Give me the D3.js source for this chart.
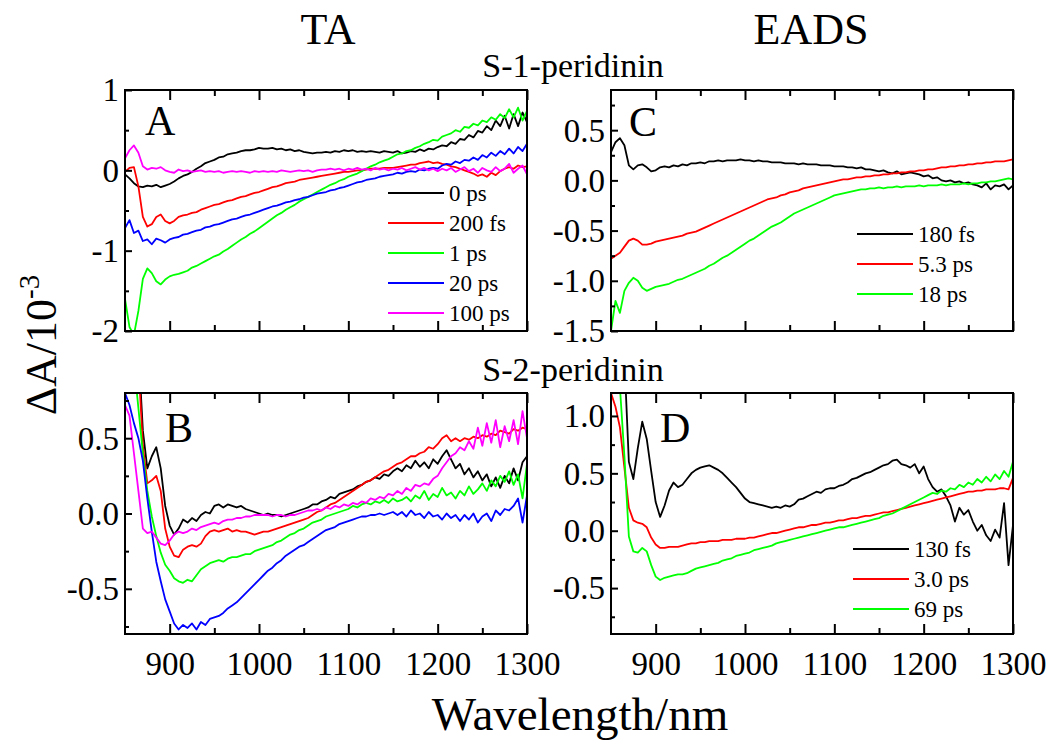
<!DOCTYPE html>
<html>
<head>
<meta charset="utf-8">
<script src="https://cdn.jsdelivr.net/npm/d3@7"></script>
<style>
  body { margin: 0; background: #fff; }
</style>
</head>
<body>
<svg id="chart" width="1052" height="740"></svg>
<script>
// wavelength grid (nm), shared by all spectra
const wavelength = [850, 855, 860, 865, 870, 875, 880, 885, 890, 895, 900, 905, 910, 915, 920, 925, 930, 935, 940, 945,
  950, 955, 960, 965, 970, 975, 980, 985, 990, 995, 1000, 1005, 1010, 1015, 1020, 1025, 1030, 1035, 1040, 1045,
  1050, 1055, 1060, 1065, 1070, 1075, 1080, 1085, 1090, 1095, 1100, 1105, 1110, 1115, 1120, 1125, 1130, 1135, 1140, 1145,
  1150, 1155, 1160, 1165, 1170, 1175, 1180, 1185, 1190, 1195, 1200, 1205, 1210, 1215, 1220, 1225, 1230, 1235, 1240, 1245,
  1250, 1255, 1260, 1265, 1270, 1275, 1280, 1285, 1290, 1295, 1300];

// A: TA, S-1-peridinin
const taS1_0ps = [-0.05, -0.10, -0.16, -0.20, -0.21, -0.19, -0.20, -0.18, -0.21, -0.19, -0.17, -0.14, -0.10, -0.07, -0.05, -0.02, 0.02, 0.05, 0.09, 0.11,
  0.13, 0.16, 0.17, 0.20, 0.21, 0.22, 0.24, 0.25, 0.25, 0.26, 0.28, 0.27, 0.27, 0.28, 0.26, 0.27, 0.25, 0.26, 0.24, 0.25,
  0.23, 0.22, 0.21, 0.22, 0.22, 0.23, 0.22, 0.24, 0.23, 0.25, 0.24, 0.25, 0.23, 0.24, 0.23, 0.24, 0.23, 0.22, 0.24, 0.23,
  0.22, 0.24, 0.21, 0.22, 0.24, 0.23, 0.26, 0.24, 0.27, 0.26, 0.29, 0.31, 0.30, 0.35, 0.33, 0.39, 0.38, 0.44, 0.41, 0.49,
  0.47, 0.55, 0.50, 0.62, 0.55, 0.68, 0.52, 0.70, 0.55, 0.72, 0.60];
const taS1_200fs = [-0.02, 0.03, 0.04, -0.20, -0.58, -0.70, -0.67, -0.58, -0.55, -0.63, -0.66, -0.63, -0.58, -0.56, -0.55, -0.53, -0.52, -0.49, -0.47, -0.45,
  -0.43, -0.42, -0.40, -0.38, -0.37, -0.35, -0.33, -0.32, -0.30, -0.28, -0.27, -0.25, -0.23, -0.21, -0.20, -0.18, -0.16, -0.15, -0.14, -0.12,
  -0.11, -0.10, -0.09, -0.08, -0.07, -0.06, -0.05, -0.04, -0.03, -0.02, -0.02, -0.01, 0.00, 0.00, 0.01, 0.02, 0.02, 0.02, 0.03, 0.03,
  0.03, 0.04, 0.05, 0.06, 0.07, 0.07, 0.09, 0.10, 0.11, 0.09, 0.10, 0.08, 0.07, 0.05, 0.04, 0.02, 0.00, -0.02, -0.04, -0.07,
  -0.05, -0.08, -0.03, -0.06, -0.01, 0.02, 0.04, 0.02, 0.06, 0.04, 0.05];
const taS1_1ps = [-1.60, -1.95, -2.05, -1.75, -1.35, -1.22, -1.28, -1.38, -1.42, -1.36, -1.32, -1.30, -1.29, -1.27, -1.25, -1.21, -1.19, -1.16, -1.13, -1.10,
  -1.07, -1.05, -1.01, -0.98, -0.94, -0.90, -0.86, -0.83, -0.79, -0.76, -0.72, -0.68, -0.64, -0.60, -0.56, -0.53, -0.49, -0.46, -0.43, -0.39,
  -0.36, -0.33, -0.30, -0.27, -0.24, -0.21, -0.18, -0.16, -0.13, -0.11, -0.08, -0.06, -0.04, -0.01, 0.02, 0.05, 0.07, 0.10, 0.12, 0.14,
  0.17, 0.20, 0.21, 0.24, 0.25, 0.28, 0.30, 0.33, 0.35, 0.38, 0.37, 0.42, 0.44, 0.46, 0.50, 0.48, 0.54, 0.53, 0.58, 0.56,
  0.62, 0.60, 0.66, 0.63, 0.70, 0.65, 0.76, 0.66, 0.78, 0.62, 0.74];
const taS1_20ps = [-0.72, -0.62, -0.78, -0.75, -0.88, -0.86, -0.92, -0.85, -0.87, -0.90, -0.86, -0.84, -0.83, -0.80, -0.79, -0.77, -0.75, -0.74, -0.71, -0.70,
  -0.68, -0.67, -0.65, -0.63, -0.61, -0.60, -0.58, -0.56, -0.55, -0.53, -0.51, -0.49, -0.47, -0.45, -0.44, -0.42, -0.40, -0.39, -0.37, -0.36,
  -0.34, -0.33, -0.31, -0.29, -0.28, -0.27, -0.25, -0.24, -0.22, -0.21, -0.19, -0.17, -0.15, -0.14, -0.12, -0.11, -0.10, -0.08, -0.07, -0.06,
  -0.05, -0.03, -0.04, -0.02, -0.01, -0.02, 0.01, 0.00, 0.02, 0.03, 0.02, 0.06, 0.08, 0.07, 0.11, 0.09, 0.13, 0.12, 0.16, 0.13,
  0.19, 0.16, 0.22, 0.18, 0.24, 0.20, 0.27, 0.21, 0.29, 0.24, 0.33];
const taS1_100ps = [0.15, 0.25, 0.31, 0.22, 0.05, 0.01, 0.03, 0.02, 0.04, 0.00, -0.02, -0.03, 0.01, -0.01, 0.00, -0.02, -0.01, 0.00, -0.02, -0.01,
  -0.02, -0.01, -0.03, -0.02, -0.01, -0.02, -0.01, -0.02, -0.03, -0.01, -0.02, -0.01, -0.02, -0.01, -0.02, 0.00, -0.01, -0.02, -0.01, 0.00,
  -0.01, 0.00, -0.02, 0.00, 0.01, 0.01, 0.02, 0.01, 0.02, 0.00, 0.02, 0.01, 0.03, 0.01, 0.02, 0.00, 0.03, 0.01, 0.02, 0.00,
  0.02, 0.01, 0.03, 0.00, 0.02, 0.04, 0.01, 0.03, 0.00, 0.02, -0.01, 0.02, 0.00, 0.03, -0.02, 0.01, 0.04, -0.01, 0.02, -0.03,
  0.03, 0.00, -0.02, 0.04, -0.01, 0.02, 0.08, -0.03, 0.02, 0.06, -0.05];
const taS1Labels = ["0 ps", "200 fs", "1 ps", "20 ps", "100 ps"];

// B: TA, S-2-peridinin
const taS2_0ps = [1.20, 1.20, 1.20, 1.10, 0.55, 0.30, 0.38, 0.44, 0.30, 0.05, -0.08, -0.14, -0.10, -0.04, -0.06, -0.03, -0.05, -0.01, 0.01, 0.00,
  0.05, 0.06, 0.04, 0.06, 0.05, 0.04, 0.05, 0.03, 0.02, 0.01, 0.00, -0.01, 0.00, -0.01, -0.01, -0.02, -0.01, 0.00, 0.01, 0.02,
  0.03, 0.04, 0.06, 0.06, 0.08, 0.09, 0.11, 0.10, 0.13, 0.14, 0.15, 0.16, 0.18, 0.19, 0.21, 0.22, 0.24, 0.23, 0.26, 0.25,
  0.28, 0.30, 0.28, 0.32, 0.30, 0.35, 0.31, 0.34, 0.30, 0.36, 0.33, 0.38, 0.42, 0.36, 0.30, 0.33, 0.26, 0.30, 0.24, 0.28,
  0.22, 0.26, 0.18, 0.24, 0.17, 0.25, 0.20, 0.30, 0.22, 0.34, 0.38];
const taS2_200fs = [1.20, 1.20, 1.20, 1.00, 0.45, 0.20, 0.22, 0.25, 0.15, -0.10, -0.22, -0.28, -0.29, -0.24, -0.22, -0.21, -0.22, -0.20, -0.15, -0.12,
  -0.11, -0.12, -0.11, -0.10, -0.12, -0.11, -0.12, -0.12, -0.13, -0.14, -0.13, -0.12, -0.12, -0.11, -0.10, -0.09, -0.08, -0.07, -0.06, -0.05,
  -0.04, -0.03, -0.01, 0.01, 0.02, 0.04, 0.06, 0.07, 0.09, 0.11, 0.13, 0.15, 0.17, 0.19, 0.21, 0.22, 0.24, 0.26, 0.28, 0.29,
  0.31, 0.33, 0.34, 0.36, 0.38, 0.38, 0.40, 0.41, 0.44, 0.43, 0.46, 0.50, 0.52, 0.48, 0.50, 0.48, 0.50, 0.49, 0.51, 0.50,
  0.52, 0.51, 0.53, 0.52, 0.55, 0.54, 0.53, 0.56, 0.55, 0.57, 0.56];
const taS2_1ps = [1.20, 1.20, 1.00, 0.70, 0.40, 0.15, -0.02, -0.15, -0.26, -0.34, -0.38, -0.43, -0.45, -0.46, -0.44, -0.45, -0.41, -0.37, -0.35, -0.33,
  -0.32, -0.31, -0.32, -0.30, -0.29, -0.29, -0.28, -0.27, -0.27, -0.25, -0.24, -0.23, -0.22, -0.21, -0.19, -0.18, -0.16, -0.14, -0.13, -0.11,
  -0.10, -0.08, -0.06, -0.05, -0.04, -0.02, -0.01, 0.00, 0.01, 0.02, 0.03, 0.05, 0.04, 0.06, 0.07, 0.06, 0.08, 0.07, 0.09, 0.07,
  0.10, 0.08, 0.09, 0.11, 0.08, 0.12, 0.10, 0.15, 0.09, 0.13, 0.11, 0.17, 0.12, 0.14, 0.10, 0.15, 0.12, 0.18, 0.13, 0.16,
  0.20, 0.15, 0.22, 0.18, 0.25, 0.21, 0.28, 0.19, 0.26, 0.10, 0.33];
const taS2_20ps = [0.80, 0.72, 0.60, 0.50, 0.35, 0.10, -0.12, -0.32, -0.45, -0.57, -0.65, -0.73, -0.77, -0.74, -0.76, -0.73, -0.77, -0.72, -0.74, -0.70,
  -0.69, -0.68, -0.66, -0.63, -0.61, -0.59, -0.56, -0.53, -0.50, -0.47, -0.44, -0.41, -0.38, -0.36, -0.33, -0.31, -0.28, -0.26, -0.24, -0.22,
  -0.21, -0.19, -0.17, -0.15, -0.13, -0.11, -0.10, -0.09, -0.07, -0.06, -0.05, -0.04, -0.03, -0.02, -0.02, -0.01, -0.01, 0.00, -0.01, 0.00,
  0.01, -0.01, 0.01, -0.02, 0.02, -0.01, 0.00, -0.03, 0.01, -0.02, -0.01, -0.04, 0.00, -0.03, -0.01, -0.05, -0.01, -0.04, 0.00, -0.06,
  -0.02, 0.00, -0.05, 0.02, -0.01, 0.03, 0.02, 0.05, 0.10, -0.06, 0.12];
const taS2_100ps = [0.72, 0.65, 0.40, 0.15, -0.10, -0.13, -0.12, -0.16, -0.20, -0.21, -0.18, -0.14, -0.12, -0.13, -0.12, -0.10, -0.11, -0.09, -0.08, -0.07,
  -0.06, -0.07, -0.05, -0.04, -0.04, -0.03, -0.03, -0.02, -0.02, -0.01, -0.01, -0.01, -0.01, -0.02, -0.01, -0.01, -0.02, -0.01, -0.01, 0.00,
  0.01, 0.02, 0.02, 0.03, 0.02, 0.04, 0.03, 0.05, 0.04, 0.06, 0.05, 0.07, 0.06, 0.08, 0.07, 0.10, 0.09, 0.11, 0.10, 0.13,
  0.12, 0.15, 0.13, 0.17, 0.15, 0.19, 0.18, 0.20, 0.19, 0.23, 0.25, 0.30, 0.34, 0.38, 0.40, 0.44, 0.42, 0.48, 0.43, 0.57,
  0.45, 0.60, 0.47, 0.62, 0.44, 0.58, 0.48, 0.62, 0.46, 0.68, 0.50];

// C: EADS, S-1-peridinin
const eadsS1_180fs = [0.28, 0.38, 0.42, 0.35, 0.15, 0.11, 0.15, 0.16, 0.13, 0.09, 0.10, 0.13, 0.14, 0.13, 0.15, 0.14, 0.16, 0.15, 0.17, 0.17,
  0.18, 0.17, 0.19, 0.19, 0.20, 0.19, 0.20, 0.20, 0.20, 0.21, 0.20, 0.20, 0.19, 0.20, 0.19, 0.19, 0.18, 0.18, 0.18, 0.17,
  0.17, 0.17, 0.16, 0.17, 0.16, 0.16, 0.16, 0.15, 0.15, 0.15, 0.14, 0.14, 0.14, 0.13, 0.13, 0.12, 0.13, 0.11, 0.11, 0.10,
  0.09, 0.10, 0.08, 0.07, 0.09, 0.06, 0.07, 0.08, 0.07, 0.06, 0.04, 0.05, 0.02, 0.03, 0.00, -0.01, 0.00, -0.02, -0.01, -0.03,
  -0.02, -0.04, -0.05, -0.07, -0.03, -0.09, -0.05, -0.06, -0.04, -0.09, -0.05];
const eadsS1_5p3ps = [-0.78, -0.75, -0.72, -0.66, -0.60, -0.58, -0.60, -0.64, -0.64, -0.63, -0.61, -0.60, -0.59, -0.58, -0.57, -0.56, -0.55, -0.53, -0.52, -0.51,
  -0.49, -0.47, -0.45, -0.43, -0.41, -0.39, -0.37, -0.35, -0.33, -0.31, -0.29, -0.27, -0.25, -0.23, -0.21, -0.19, -0.18, -0.17, -0.15, -0.14,
  -0.12, -0.11, -0.10, -0.08, -0.07, -0.06, -0.05, -0.04, -0.03, -0.02, -0.01, 0.00, 0.01, 0.01, 0.02, 0.03, 0.03, 0.04, 0.04, 0.05,
  0.05, 0.06, 0.06, 0.07, 0.07, 0.08, 0.08, 0.09, 0.09, 0.10, 0.10, 0.11, 0.11, 0.12, 0.13, 0.13, 0.14, 0.14, 0.15, 0.15,
  0.16, 0.16, 0.17, 0.17, 0.18, 0.18, 0.19, 0.19, 0.19, 0.20, 0.21];
const eadsS1_18ps = [-1.50, -1.20, -1.32, -1.10, -1.02, -0.97, -1.00, -1.07, -1.10, -1.08, -1.06, -1.05, -1.04, -1.03, -1.01, -0.99, -0.98, -0.96, -0.94, -0.92,
  -0.90, -0.88, -0.85, -0.83, -0.80, -0.77, -0.75, -0.72, -0.69, -0.66, -0.63, -0.60, -0.58, -0.55, -0.52, -0.49, -0.46, -0.44, -0.42, -0.39,
  -0.36, -0.33, -0.31, -0.29, -0.27, -0.25, -0.23, -0.21, -0.19, -0.17, -0.15, -0.14, -0.13, -0.12, -0.11, -0.10, -0.09, -0.09, -0.08, -0.08,
  -0.07, -0.08, -0.07, -0.07, -0.06, -0.07, -0.06, -0.06, -0.06, -0.05, -0.06, -0.05, -0.05, -0.05, -0.04, -0.05, -0.04, -0.04, -0.04, -0.03,
  -0.04, -0.03, -0.03, -0.02, -0.02, -0.01, -0.01, 0.00, 0.01, 0.02, 0.01];
const eadsS1Labels = ["180 fs", "5.3 ps", "18 ps"];

// D: EADS, S-2-peridinin
const eadsS2_130fs = [1.50, 1.50, 1.50, 1.50, 0.60, 0.45, 0.72, 0.95, 0.80, 0.52, 0.25, 0.12, 0.22, 0.35, 0.42, 0.38, 0.40, 0.45, 0.50, 0.53,
  0.55, 0.56, 0.57, 0.55, 0.53, 0.50, 0.46, 0.42, 0.38, 0.33, 0.28, 0.25, 0.24, 0.23, 0.22, 0.21, 0.20, 0.21, 0.20, 0.22,
  0.21, 0.23, 0.27, 0.28, 0.30, 0.32, 0.34, 0.33, 0.36, 0.37, 0.37, 0.39, 0.40, 0.42, 0.45, 0.46, 0.48, 0.50, 0.51, 0.53,
  0.55, 0.57, 0.58, 0.61, 0.62, 0.58, 0.57, 0.55, 0.58, 0.50, 0.56, 0.45, 0.38, 0.34, 0.36, 0.30, 0.22, 0.08, 0.20, 0.14,
  0.18, 0.08, 0.00, 0.05, -0.04, -0.09, 0.01, -0.06, 0.24, -0.30, 0.05];
const eadsS2_3p0ps = [1.20, 1.08, 0.90, 0.55, 0.20, 0.09, 0.07, 0.06, 0.03, -0.06, -0.12, -0.15, -0.15, -0.14, -0.14, -0.14, -0.13, -0.12, -0.11, -0.11,
  -0.10, -0.10, -0.09, -0.09, -0.09, -0.08, -0.08, -0.08, -0.07, -0.07, -0.07, -0.06, -0.06, -0.05, -0.04, -0.03, -0.02, -0.02, -0.01, 0.00,
  0.01, 0.02, 0.03, 0.03, 0.04, 0.05, 0.05, 0.06, 0.07, 0.07, 0.08, 0.09, 0.09, 0.10, 0.11, 0.11, 0.12, 0.13, 0.13, 0.14,
  0.15, 0.16, 0.16, 0.17, 0.18, 0.19, 0.20, 0.21, 0.22, 0.23, 0.24, 0.25, 0.26, 0.27, 0.28, 0.29, 0.30, 0.31, 0.32, 0.33,
  0.34, 0.34, 0.35, 0.35, 0.36, 0.36, 0.36, 0.37, 0.37, 0.36, 0.46];
const eadsS2_69ps = [1.50, 1.50, 1.25, 0.65, -0.05, -0.18, -0.19, -0.15, -0.18, -0.30, -0.40, -0.43, -0.41, -0.40, -0.39, -0.38, -0.38, -0.37, -0.35, -0.33,
  -0.32, -0.31, -0.30, -0.29, -0.28, -0.26, -0.25, -0.24, -0.22, -0.21, -0.20, -0.19, -0.17, -0.16, -0.15, -0.14, -0.13, -0.11, -0.10, -0.09,
  -0.08, -0.07, -0.06, -0.05, -0.04, -0.03, -0.02, -0.01, 0.00, 0.01, 0.02, 0.03, 0.03, 0.04, 0.05, 0.06, 0.07, 0.08, 0.09, 0.10,
  0.11, 0.13, 0.14, 0.15, 0.17, 0.19, 0.21, 0.23, 0.25, 0.27, 0.29, 0.31, 0.33, 0.32, 0.35, 0.34, 0.37, 0.36, 0.40, 0.38,
  0.42, 0.40, 0.45, 0.42, 0.47, 0.43, 0.49, 0.45, 0.52, 0.47, 0.60];
const eadsS2Labels = ["130 fs", "3.0 ps", "69 ps"];

const lineColors = ["#000000", "#ff0000", "#00ff00", "#0000ff", "#ff00ff"];
const xMajor = [900, 1000, 1100, 1200, 1300];
const xMinor = [950, 1050, 1150, 1250];

const svg = d3.select("#chart");
const font = "Liberation Serif";

const panels = [
  { id: "A", left: 125, right: 527, top: 90, bottom: 331, yDomain: [-2, 1],
    yMajor: [-2, -1, 0, 1], yMinor: [-1.5, -0.5, 0.5], fmt: d => d.toFixed(0),
    series: [taS1_0ps, taS1_200fs, taS1_1ps, taS1_20ps, taS1_100ps], labels: taS1Labels,
    letterX: 145, letterY: 135, legX: 388, legY: 193, xLabels: false },
  { id: "C", left: 611, right: 1013, top: 90, bottom: 331, yDomain: [-1.5, 0.9],
    yMajor: [-1.5, -1, -0.5, 0, 0.5], yMinor: [-1.25, -0.75, -0.25, 0.25, 0.75], fmt: d => d.toFixed(1),
    series: [eadsS1_180fs, eadsS1_5p3ps, eadsS1_18ps], labels: eadsS1Labels,
    letterX: 629, letterY: 136, legX: 857, legY: 234, xLabels: false },
  { id: "B", left: 125, right: 527, top: 393, bottom: 634, yDomain: [-0.8, 0.8],
    yMajor: [-0.5, 0, 0.5], yMinor: [-0.75, -0.25, 0.25, 0.75], fmt: d => d.toFixed(1),
    series: [taS2_0ps, taS2_200fs, taS2_1ps, taS2_20ps, taS2_100ps], labels: null,
    letterX: 165, letterY: 442, legX: 0, legY: 0, xLabels: true },
  { id: "D", left: 611, right: 1013, top: 393, bottom: 634, yDomain: [-0.9, 1.2],
    yMajor: [-0.5, 0, 0.5, 1], yMinor: [-0.75, -0.25, 0.25, 0.75], fmt: d => d.toFixed(1),
    series: [eadsS2_130fs, eadsS2_3p0ps, eadsS2_69ps], labels: eadsS2Labels,
    letterX: 660, letterY: 442, legX: 853, legY: 549, xLabels: true }
];

const drawPanel = (p) => {
  const x = d3.scaleLinear().domain([850, 1300]).range([p.left, p.right]);
  const y = d3.scaleLinear().domain(p.yDomain).range([p.bottom, p.top]);
  const g = svg.append("g");

  g.append("clipPath").attr("id", "clip" + p.id).append("rect")
    .attr("x", p.left).attr("y", p.top)
    .attr("width", p.right - p.left).attr("height", p.bottom - p.top);

  const line = d3.line().x((d, i) => x(wavelength[i])).y(d => y(d));
  p.series.forEach((s, k) => {
    g.append("path").attr("d", line(s)).attr("clip-path", `url(#clip${p.id})`)
      .attr("fill", "none").attr("stroke", lineColors[k]).attr("stroke-width", 1.8)
      .attr("stroke-linejoin", "round");
  });

  // inward ticks on bottom, top and left
  const bottom = g.append("g").attr("transform", `translate(0,${p.bottom})`)
    .call(d3.axisBottom(x).tickValues(xMajor).tickSize(-10).tickPadding(8)
      .tickFormat(p.xLabels ? d => String(d) : ""));
  g.append("g").attr("transform", `translate(0,${p.bottom})`)
    .call(d3.axisBottom(x).tickValues(xMinor).tickSize(-6).tickFormat(""));
  g.append("g").attr("transform", `translate(0,${p.top})`)
    .call(d3.axisTop(x).tickValues(xMajor).tickSize(-10).tickFormat(""));
  g.append("g").attr("transform", `translate(0,${p.top})`)
    .call(d3.axisTop(x).tickValues(xMinor).tickSize(-6).tickFormat(""));
  const left = g.append("g").attr("transform", `translate(${p.left},0)`)
    .call(d3.axisLeft(y).tickValues(p.yMajor).tickSize(-7).tickPadding(6).tickFormat(p.fmt));
  g.append("g").attr("transform", `translate(${p.left},0)`)
    .call(d3.axisLeft(y).tickValues(p.yMinor).tickSize(-4).tickFormat(""));

  g.selectAll(".domain").remove();
  g.selectAll("g").attr("font-family", font);
  g.selectAll(".tick line").attr("stroke", "#000").attr("stroke-width", 2);
  g.selectAll(".tick text").attr("font-family", font).attr("font-size", 33).attr("fill", "#000");
  bottom.selectAll(".tick text").attr("y", 41).attr("dy", 0);
  left.selectAll(".tick text").attr("dy", "0.33em");

  g.append("rect").attr("x", p.left).attr("y", p.top)
    .attr("width", p.right - p.left).attr("height", p.bottom - p.top)
    .attr("fill", "none").attr("stroke", "#000").attr("stroke-width", 2);

  g.append("text").attr("x", p.letterX).attr("y", p.letterY)
    .attr("font-family", font).attr("font-size", 42).text(p.id);

  if (p.labels) {
    p.labels.forEach((lab, k) => {
      const ly = p.legY + k * 30;
      g.append("line").attr("x1", p.legX).attr("x2", p.legX + 56)
        .attr("y1", ly).attr("y2", ly)
        .attr("stroke", lineColors[k]).attr("stroke-width", 2);
      g.append("text").attr("x", p.legX + 61).attr("y", ly).attr("dy", "0.33em")
        .attr("font-family", font).attr("font-size", 23).text(lab);
    });
  }
};

panels.forEach(drawPanel);

// titles and axis names
const addText = (x, y, size, str) => svg.append("text").attr("x", x).attr("y", y)
  .attr("text-anchor", "middle").attr("font-family", font).attr("font-size", size).text(str);
addText(328, 44, 44, "TA");
addText(811, 44, 44, "EADS");
addText(573, 77, 34, "S-1-peridinin");
addText(573, 381, 34, "S-2-peridinin");
addText(580, 730, 47, "Wavelength/nm");

const yTitle = svg.append("text").attr("transform", "translate(56,345) rotate(-90)")
  .attr("text-anchor", "middle").attr("font-family", font).attr("font-size", 44);
yTitle.append("tspan").text("ΔA/10");
yTitle.append("tspan").attr("dy", -17).attr("font-size", 29).text("-3");
</script>
</body>
</html>
